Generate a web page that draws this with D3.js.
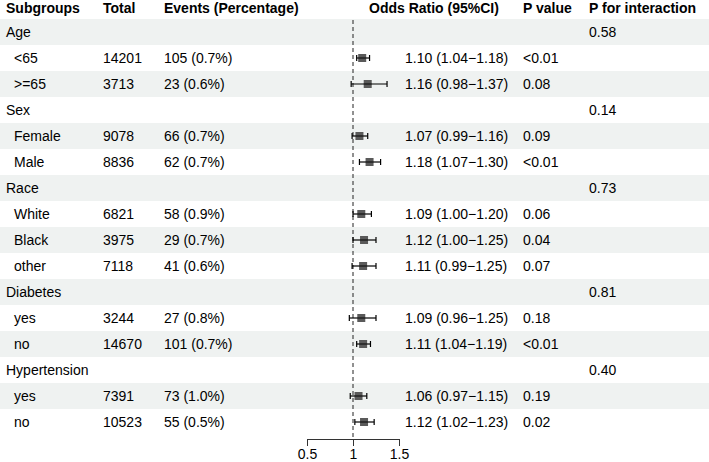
<!DOCTYPE html>
<html>
<head>
<meta charset="utf-8">
<script src="https://cdn.jsdelivr.net/npm/d3@7"></script>
<style>
  html, body { margin: 0; padding: 0; background: #fff; }
  svg { display: block; font-family: "Liberation Sans", Arial, sans-serif; }
</style>
</head>
<body>
<svg id="chart" width="709" height="462"></svg>
<script>
// table columns
const headers = ["Subgroups", "Total", "Events (Percentage)", "Odds Ratio (95%CI)", "P value", "P for interaction"];
const subgroups = ["Age", "<65", ">=65", "Sex", "Female", "Male", "Race", "White", "Black", "other",
  "Diabetes", "yes", "no", "Hypertension", "yes", "no"];
const totals = ["", "14201", "3713", "", "9078", "8836", "", "6821", "3975", "7118", "", "3244", "14670", "", "7391", "10523"];
const events = ["", "105 (0.7%)", "23 (0.6%)", "", "66 (0.7%)", "62 (0.7%)", "", "58 (0.9%)", "29 (0.7%)", "41 (0.6%)",
  "", "27 (0.8%)", "101 (0.7%)", "", "73 (1.0%)", "55 (0.5%)"];
const oddsRatio = [null, 1.10, 1.16, null, 1.07, 1.18, null, 1.09, 1.12, 1.11, null, 1.09, 1.11, null, 1.06, 1.12];
const ciLow = [null, 1.04, 0.98, null, 0.99, 1.07, null, 1.00, 1.00, 0.99, null, 0.96, 1.04, null, 0.97, 1.02];
const ciHigh = [null, 1.18, 1.37, null, 1.16, 1.30, null, 1.20, 1.25, 1.25, null, 1.25, 1.19, null, 1.15, 1.23];
const pValues = ["", "<0.01", "0.08", "", "0.09", "<0.01", "", "0.06", "0.04", "0.07", "", "0.18", "<0.01", "", "0.19", "0.02"];
const pInteraction = ["0.58", "", "", "0.14", "", "", "0.73", "", "", "", "0.81", "", "", "0.40", "", ""];
const xTicks = [0.5, 1, 1.5];

const W = 709, H = 462;
const rowTop = 19, rowH = 26;
const colX = { sub: 6, subIndent: 14, total: 103, events: 164, orHead: 369, orText: 405, p: 523, pint: 589 };

const svg = d3.select("#chart");

const rows = subgroups.map((s, i) => ({
  i, label: s, group: totals[i] === "",
  total: totals[i], events: events[i],
  or: oddsRatio[i], lo: ciLow[i], hi: ciHigh[i],
  p: pValues[i], pint: pInteraction[i]
}));

const y = d3.scaleBand().domain(d3.range(rows.length)).range([rowTop, rowTop + rowH * rows.length]).padding(0);
const x = d3.scaleLinear().domain([0.5, 1.5]).range([307, 399]);
const yc = (i) => y(i) + y.bandwidth() / 2;

// zebra bands
svg.append("g").selectAll("rect")
  .data(rows.filter((d) => d.i % 2 === 0))
  .join("rect")
  .attr("x", 0).attr("width", W)
  .attr("y", (d) => y(d.i)).attr("height", y.bandwidth())
  .attr("fill", "#eff2f1");

// header
const hx = [colX.sub, colX.total, colX.events, colX.orHead, colX.p, colX.pint];
svg.append("g").selectAll("text")
  .data(headers)
  .join("text")
  .attr("x", (d, i) => hx[i]).attr("y", 13)
  .attr("font-size", 14).attr("font-weight", "bold").attr("fill", "#000")
  .text((d) => d);

// table text
const fmt = d3.format(".2f");
const txt = svg.append("g").attr("font-size", 14).attr("fill", "#000");
const cols = [
  { x: (d) => (d.group ? colX.sub : colX.subIndent), t: (d) => d.label },
  { x: () => colX.total, t: (d) => d.total },
  { x: () => colX.events, t: (d) => d.events },
  { x: () => colX.orText, t: (d) => (d.or == null ? "" : `${fmt(d.or)} (${fmt(d.lo)}\u2212${fmt(d.hi)})`) },
  { x: () => colX.p, t: (d) => d.p },
  { x: () => colX.pint, t: (d) => d.pint },
];
cols.forEach((c) => {
  txt.append("g").selectAll("text")
    .data(rows)
    .join("text")
    .attr("x", c.x)
    .attr("y", (d) => yc(d.i) + 5)
    .text(c.t);
});

// reference line at 1
const axisY = 439;
svg.append("line")
  .attr("x1", x(1)).attr("x2", x(1))
  .attr("y1", rowTop + 1).attr("y2", axisY)
  .attr("stroke", "#222").attr("stroke-width", 1)
  .attr("stroke-dasharray", "4,3");

// CI lines, caps, boxes
const est = rows.filter((d) => d.or != null);
const g = svg.append("g");
g.selectAll("line.ci")
  .data(est).join("line").attr("class", "ci")
  .attr("x1", (d) => x(d.lo)).attr("x2", (d) => x(d.hi))
  .attr("y1", (d) => yc(d.i)).attr("y2", (d) => yc(d.i))
  .attr("stroke", "#000").attr("stroke-width", 1.2);
["lo", "hi"].forEach((k) => {
  g.selectAll(`line.cap-${k}`)
    .data(est).join("line").attr("class", `cap-${k}`)
    .attr("x1", (d) => x(d[k])).attr("x2", (d) => x(d[k]))
    .attr("y1", (d) => yc(d.i) - 3).attr("y2", (d) => yc(d.i) + 3)
    .attr("stroke", "#000").attr("stroke-width", 1.2);
});
g.selectAll("rect.box")
  .data(est).join("rect").attr("class", "box")
  .attr("x", (d) => x(d.or) - 4).attr("y", (d) => yc(d.i) - 4)
  .attr("width", 8).attr("height", 8)
  .attr("fill", "#5a5a5a");
g.selectAll("line.mid")
  .data(est).join("line").attr("class", "mid")
  .attr("x1", (d) => x(d.or) - 4).attr("x2", (d) => x(d.or) + 4)
  .attr("y1", (d) => yc(d.i)).attr("y2", (d) => yc(d.i))
  .attr("stroke", "#111").attr("stroke-width", 1.2);

// x axis
const axis = svg.append("g")
  .attr("transform", `translate(0,${axisY})`)
  .call(d3.axisBottom(x).tickValues(xTicks).tickFormat(d3.format("")).tickSize(7).tickSizeOuter(0));
axis.select(".domain").attr("stroke", "#333");
axis.selectAll(".tick line").attr("stroke", "#333");
axis.selectAll(".tick text")
  .attr("font-size", 14).attr("font-family", "Liberation Sans, Arial, sans-serif")
  .attr("fill", "#000").attr("dy", "0.9em").attr("y", 7);
</script>
</body>
</html>
